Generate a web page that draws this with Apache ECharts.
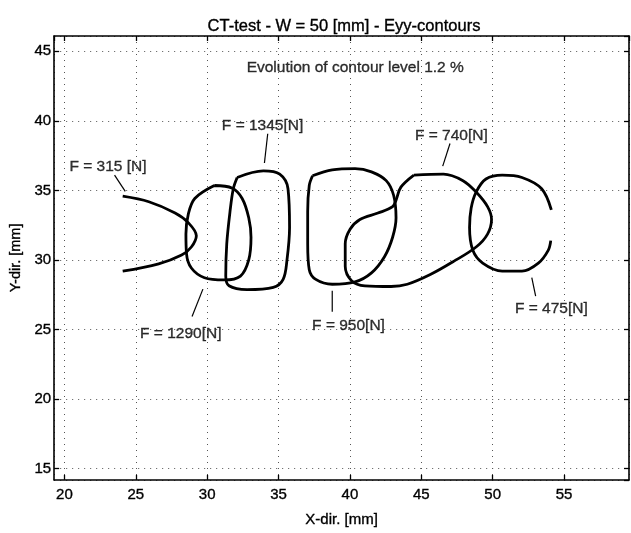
<!DOCTYPE html>
<html>
<head>
<meta charset="utf-8">
<script src="https://cdn.jsdelivr.net/npm/echarts@6/dist/echarts.min.js"></script>
<style>
  html, body { margin: 0; padding: 0; background: #fff; }
  #chart { width: 631px; height: 533px; }
</style>
</head>
<body>
<div id="chart"></div>
<script>
// Eyy = 1.2 % contour lines, one per load step, as [x, y] in mm
const contour315 = [[24.08,34.58],[25.91,34.18],[27.75,33.37],[28.67,32.68],[29.24,31.74],[28.89,30.93],[28.21,30.35],[26.60,29.72],[24.08,29.19]];
const contour1290 = [[30.50,35.35],[29.13,34.42],[28.67,33.26],[28.51,31.86],[28.55,30.46],[28.89,29.42],[29.81,28.72],[31.19,28.56],[32.33,28.84],[32.91,30.00],[33.07,31.63],[32.91,33.03],[32.45,34.42],[31.76,35.16],[30.50,35.35]];
const contour1345 = [[32.10,35.93],[33.94,36.40],[35.08,36.17],[35.66,35.12],[35.77,32.33],[35.59,30.00],[35.32,28.60],[34.63,28.02],[32.79,27.86],[31.53,28.14],[31.30,28.84],[31.37,31.16],[31.60,33.49],[31.83,35.12],[32.10,35.93]];
const contour950 = [[37.38,36.05],[38.76,36.47],[40.36,36.56],[41.51,36.33],[42.54,35.70],[43.06,34.65],[43.23,33.03],[42.99,31.63],[42.42,30.23],[41.51,29.07],[40.36,28.42],[38.76,28.25],[37.61,28.60],[37.15,29.30],[37.04,31.16],[37.04,33.49],[37.15,35.35],[37.38,36.05]];
const contour740 = [[44.48,36.10],[46.55,36.17],[47.92,35.70],[48.84,34.88],[49.64,33.83],[49.92,32.91],[49.64,31.86],[48.84,30.93],[47.24,29.88],[45.63,28.95],[44.02,28.25],[42.88,28.09],[41.05,28.14],[40.13,28.49],[39.67,29.54],[39.67,31.16],[40.01,32.21],[40.70,32.91],[41.96,33.37],[42.99,33.83],[43.23,34.30],[43.57,35.23],[44.48,36.10]];
const contour475 = [[54.11,33.60],[53.43,35.12],[52.05,35.93],[50.67,36.10],[49.53,35.82],[48.84,34.88],[48.49,33.72],[48.38,32.33],[48.61,30.69],[49.30,29.77],[50.67,29.19],[52.05,29.19],[53.20,29.77],[53.89,30.69],[54.07,31.39]];

// Load-step annotations: text, text anchor, and leader line ends
const loadLabels = ['F = 315 [N]', 'F = 1345[N]', 'F = 740[N]', 'F = 1290[N]', 'F = 950[N]', 'F = 475[N]'];
const labelPos = [[23.05,36.67],[33.88,39.65],[47.10,38.96],[28.15,24.71],[39.90,25.30],[54.11,26.51]];
const leaderLines = [
  [[23.51,36.10],[24.26,34.93]],
  [[34.24,39.07],[34.01,36.97]],
  [[47.01,38.37],[46.50,36.74]],
  [[29.70,27.90],[28.94,25.93]],
  [[38.76,27.79],[38.76,26.28]],
  [[52.74,28.72],[53.01,27.39]]
];

const noteText = 'Evolution of contour level 1.2 %';
const notePos = [40.37, 43.85];

const xRange = [19.28, 59.55];
const yRange = [14.19, 46.1];
const tickStep = 5;

const FONT = '"Liberation Sans", Arial, Helvetica, sans-serif';
const INK = { color: '#000', fontFamily: FONT, textBorderColor: '#000', textBorderWidth: 0.35 };
const onStep = v => Math.abs(v / tickStep - Math.round(v / tickStep)) < 1e-6 ? String(Math.round(v)) : '';

const frameLine = { show: true, onZero: false, lineStyle: { color: '#000', width: 1.6 } };
const innerTick = { show: true, inside: true, length: 5, lineStyle: { color: '#000', width: 1.3 } };
const dotGrid = { show: true, lineStyle: { color: '#555', type: [1, 5], width: 1 } };

const axisBase = (range) => ({
  type: 'value', min: range[0], max: range[1],
  minInterval: tickStep, maxInterval: tickStep,
  axisLine: frameLine, axisTick: innerTick
});

const contourSeries = [contour315, contour1290, contour1345, contour950, contour740, contour475].map(d => ({
  type: 'line', data: d, smooth: 0.35, showSymbol: false, silent: true,
  lineStyle: { color: '#000', width: 2.8 }
}));

const leaderSeries = leaderLines.map(d => ({
  type: 'line', data: d, showSymbol: false, silent: true,
  lineStyle: { color: '#000', width: 1.2 }
}));

const textSeries = {
  type: 'scatter', symbolSize: 0, silent: true,
  data: loadLabels.map((t, i) => ({ name: t, value: labelPos[i] }))
        .concat([{ name: noteText, value: notePos }]),
  label: Object.assign({ show: true, position: 'inside', formatter: '{b}', fontSize: 15.5 }, INK)
};

const chart = echarts.init(document.getElementById('chart'));
chart.setOption({
  animation: false,
  backgroundColor: '#fff',
  title: {
    text: 'CT-test - W = 50 [mm] - Eyy-contours',
    left: 339, top: 13, textAlign: 'center',
    textStyle: Object.assign({ fontSize: 16.5, fontWeight: 'normal' }, INK)
  },
  grid: { left: 43.5, right: 2, top: 36, bottom: 39.7 },
  xAxis: [
    Object.assign(axisBase(xRange), {
      position: 'bottom', splitNumber: 8,
      axisLabel: Object.assign({ fontSize: 15, margin: 8, formatter: onStep, showMinLabel: false, showMaxLabel: false }, INK),
      splitLine: dotGrid,
      name: 'X-dir. [mm]', nameLocation: 'middle', nameGap: 33,
      nameTextStyle: Object.assign({ fontSize: 15 }, INK)
    }),
    Object.assign(axisBase(xRange), {
      position: 'top', splitNumber: 8,
      axisLabel: { show: false }, splitLine: { show: false }
    })
  ],
  yAxis: [
    Object.assign(axisBase(yRange), {
      position: 'left', splitNumber: 6,
      axisLabel: Object.assign({ fontSize: 15, margin: 3, formatter: onStep, showMinLabel: false, showMaxLabel: false }, INK),
      splitLine: dotGrid,
      name: 'Y-dir. [mm]', nameLocation: 'middle', nameGap: 31,
      nameTextStyle: Object.assign({ fontSize: 14.5 }, INK)
    }),
    Object.assign(axisBase(yRange), {
      position: 'right', splitNumber: 6,
      axisLabel: { show: false }, splitLine: { show: false }
    })
  ],
  series: contourSeries.concat(leaderSeries, [textSeries])
});
</script>
</body>
</html>
